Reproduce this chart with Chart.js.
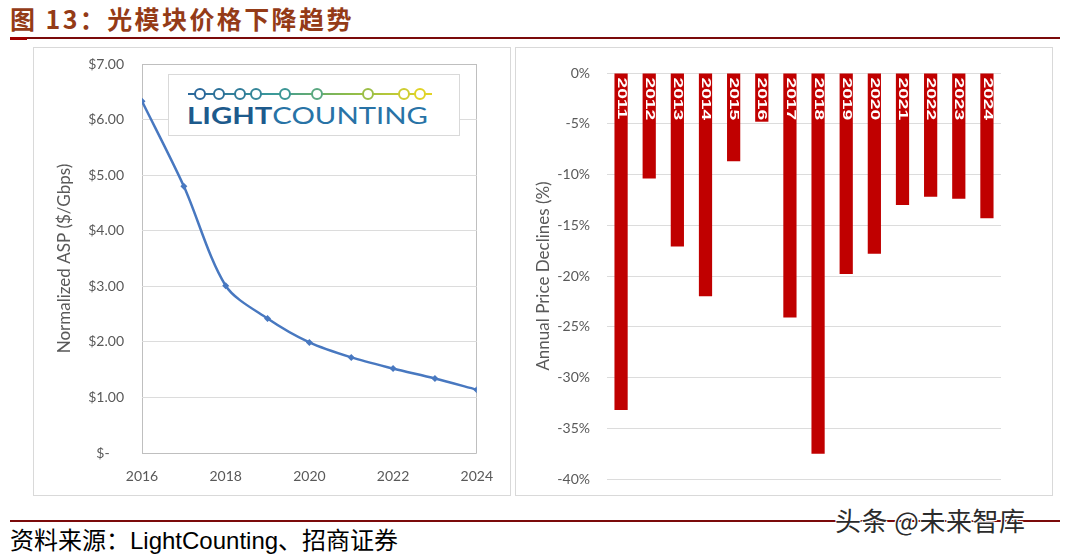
<!DOCTYPE html>
<html>
<head>
<meta charset="utf-8">
<script src="https://cdn.jsdelivr.net/npm/chart.js@4.4.0/dist/chart.umd.min.js"></script>
<style>
  body { margin: 0; width: 1072px; height: 554px; background: #fff; position: relative; overflow: hidden; }
  .abs { position: absolute; }
  #title { left: 10px; top: 0px; font: bold 25px "Noto Sans CJK SC", sans-serif; letter-spacing: 2.4px; color: #943b17; white-space: nowrap; }
  #titleLine { left: 10px; top: 37px; width: 1050px; height: 2px; background: #7b0a0a; }
  #titleMark { left: 10px; top: 37px; width: 17px; height: 3px; background: #a00000; }
  .panel { border: 1px solid #d9d9d9; box-sizing: border-box; }
  #leftPanel { left: 33px; top: 47px; width: 478px; height: 449px; }
  #rightPanel { left: 515px; top: 47px; width: 538px; height: 449px; }
  #leftWrap { left: 35px; top: 48px; width: 473px; height: 446px; }
  #rightWrap { left: 516px; top: 48px; width: 535px; height: 446px; }
  #logo { left: 168px; top: 74px; width: 292px; height: 62px; background: #fff; border: 1px solid #d9d9d9; box-sizing: border-box; }
  #footLine { left: 10px; top: 520px; width: 1050px; height: 2px; background: #7b0a0a; }
  #source { left: 10px; top: 521px; font: 24px "Liberation Sans", "Noto Sans CJK SC", sans-serif; color: #000; white-space: nowrap; }
  #mark { left: 835px; top: 501px; font: 26px "Noto Sans CJK SC", sans-serif; letter-spacing: 0.5px; color: #2b2b2b; white-space: nowrap;
          text-shadow: 1px 1px 0 #fff, -1px -1px 0 #fff, 1px -1px 0 #fff, -1px 1px 0 #fff; }
</style>
</head>
<body>
<div id="title" class="abs">图 13：光模块价格下降趋势</div>
<div id="titleLine" class="abs"></div>
<div id="titleMark" class="abs"></div>

<div id="leftPanel" class="abs panel"></div>
<div id="rightPanel" class="abs panel"></div>
<div id="leftWrap" class="abs"><canvas id="aspChart"></canvas></div>
<div id="rightWrap" class="abs"><canvas id="declineChart"></canvas></div>

<div id="logo" class="abs">
  <svg width="290" height="60" viewBox="0 0 290 60">
    <defs>
      <linearGradient id="lcGrad" gradientUnits="userSpaceOnUse" x1="19" y1="19" x2="263" y2="19">
        <stop offset="0" stop-color="#2a679b"/>
        <stop offset="0.35" stop-color="#3a9a9a"/>
        <stop offset="0.65" stop-color="#8bbb4c"/>
        <stop offset="1" stop-color="#e3d425"/>
      </linearGradient>
    </defs>
    <line x1="19" y1="19" x2="263" y2="19" stroke="url(#lcGrad)" stroke-width="2"/>
    <g fill="#fff" stroke-width="2">
      <circle cx="31" cy="19" r="5" stroke="#2a679b"/>
      <circle cx="50" cy="19" r="5" stroke="#2d7199"/>
      <circle cx="71" cy="19" r="5" stroke="#317c99"/>
      <circle cx="87" cy="19" r="5" stroke="#358699"/>
      <circle cx="116" cy="19" r="5" stroke="#3c9695"/>
      <circle cx="148" cy="19" r="5" stroke="#5aa880"/>
      <circle cx="199" cy="19" r="5" stroke="#9cbf48"/>
      <circle cx="235" cy="19" r="5" stroke="#cfcd32"/>
      <circle cx="251" cy="19" r="5" stroke="#e0d326"/>
    </g>
    <text x="18" y="49" font-family="Lato, sans-serif" font-size="23" textLength="241" lengthAdjust="spacingAndGlyphs"><tspan font-weight="bold" fill="#1d5a8c">LIGHT</tspan><tspan fill="#2873a6">COUNTING</tspan></text>
  </svg>
</div>

<div id="footLine" class="abs"></div>
<div id="source" class="abs">资料来源：LightCounting、招商证券</div>
<div id="mark" class="abs">头条 @未来智库</div>

<script>
// left chart: normalized ASP ($/Gbps)
const aspYears = [2016, 2017, 2018, 2019, 2020, 2021, 2022, 2023, 2024];
const aspValues = [6.33, 4.80, 3.01, 2.42, 1.99, 1.72, 1.52, 1.34, 1.14];

// right chart: annual price declines (%)
const declineYears = ['2011', '2012', '2013', '2014', '2015', '2016', '2017', '2018', '2019', '2020', '2021', '2022', '2023', '2024'];
const declineValues = [-33.2, -10.4, -17.1, -22.0, -8.7, -4.8, -24.1, -37.5, -19.8, -17.8, -13.0, -12.2, -12.4, -14.3];

const tickFont = { family: 'Lato, sans-serif', size: 14 };
const titleFont = { family: 'Lato, sans-serif', size: 17 };
const textGray = '#595959';

// fixed axis width, and no extra top/bottom padding from the tick labels
function fixAxis(width) {
    return s => { s.width = width; s.paddingTop = 0; s.paddingBottom = 0; };
}

const aspChart = new Chart(document.getElementById('aspChart'), {
    type: 'line',
    data: {
        datasets: [{
            data: aspYears.map((y, i) => ({ x: y, y: aspValues[i] })),
            borderColor: '#4878c0',
            backgroundColor: '#4878c0',
            borderWidth: 2.5,
            tension: 0.3,
            pointStyle: 'rectRot',
            pointRadius: 3.5,
            pointBorderWidth: 0
        }]
    },
    options: {
        responsive: true,
        maintainAspectRatio: false,
        animation: false,
        layout: { padding: { top: 16, right: 29, left: 0, bottom: 0 } },
        plugins: { legend: { display: false }, tooltip: { enabled: false } },
        scales: {
            x: {
                type: 'linear',
                min: 2016,
                max: 2024,
                ticks: { stepSize: 2, color: textGray, font: tickFont, padding: 15, callback: v => String(v) },
                grid: {
                    drawTicks: false,
                    color: c => (c.tick && (c.tick.value === 2016 || c.tick.value === 2024)) ? '#bfbfbf' : 'rgba(0,0,0,0)'
                },
                border: { display: false },
                afterFit: s => { s.height = 41; }
            },
            y: {
                min: 0,
                max: 7,
                ticks: {
                    stepSize: 1, color: textGray, font: tickFont, padding: 18,
                    callback: v => v === 0 ? '$-    ' : '$' + v.toFixed(2)
                },
                grid: {
                    drawTicks: false,
                    color: c => (c.tick && (c.tick.value === 0 || c.tick.value === 7)) ? '#bfbfbf' : '#dcdcdc'
                },
                border: { display: false },
                title: { display: true, text: 'Normalized ASP ($/Gbps)', color: textGray, font: titleFont, padding: { top: 19, bottom: 0 } },
                afterFit: fixAxis(107)
            }
        }
    }
});

const barLabels = {
    id: 'barLabels',
    afterDatasetsDraw(chart) {
        const ctx = chart.ctx;
        const meta = chart.getDatasetMeta(0);
        ctx.save();
        ctx.fillStyle = '#fff';
        ctx.font = 'bold 12px "Liberation Sans", sans-serif';
        ctx.textBaseline = 'middle';
        ctx.textAlign = 'left';
        meta.data.forEach((bar, i) => {
            ctx.save();
            ctx.translate(bar.x, bar.base + 4);
            ctx.rotate(Math.PI / 2);
            ctx.scale(1.6, 1);
            ctx.fillText(declineYears[i], 0, 0);
            ctx.restore();
        });
        ctx.restore();
    }
};

const declineChart = new Chart(document.getElementById('declineChart'), {
    type: 'bar',
    data: {
        labels: declineYears,
        datasets: [{
            data: declineValues,
            backgroundColor: '#c00000',
            barPercentage: 0.47,
            categoryPercentage: 1
        }]
    },
    options: {
        responsive: true,
        maintainAspectRatio: false,
        animation: false,
        layout: { padding: { top: 25, right: 50, left: 0, bottom: 15 } },
        plugins: { legend: { display: false }, tooltip: { enabled: false } },
        scales: {
            x: { display: false },
            y: {
                min: -40,
                max: 0,
                ticks: { stepSize: 5, color: textGray, font: tickFont, padding: 17, callback: v => v + '%' },
                grid: { drawTicks: false, color: '#dcdcdc' },
                border: { display: false },
                title: { display: true, text: 'Annual Price Declines (%)', color: textGray, font: titleFont, padding: { top: 17, bottom: 0 } },
                afterFit: fixAxis(91)
            }
        }
    },
    plugins: [barLabels]
});
</script>
</body>
</html>
